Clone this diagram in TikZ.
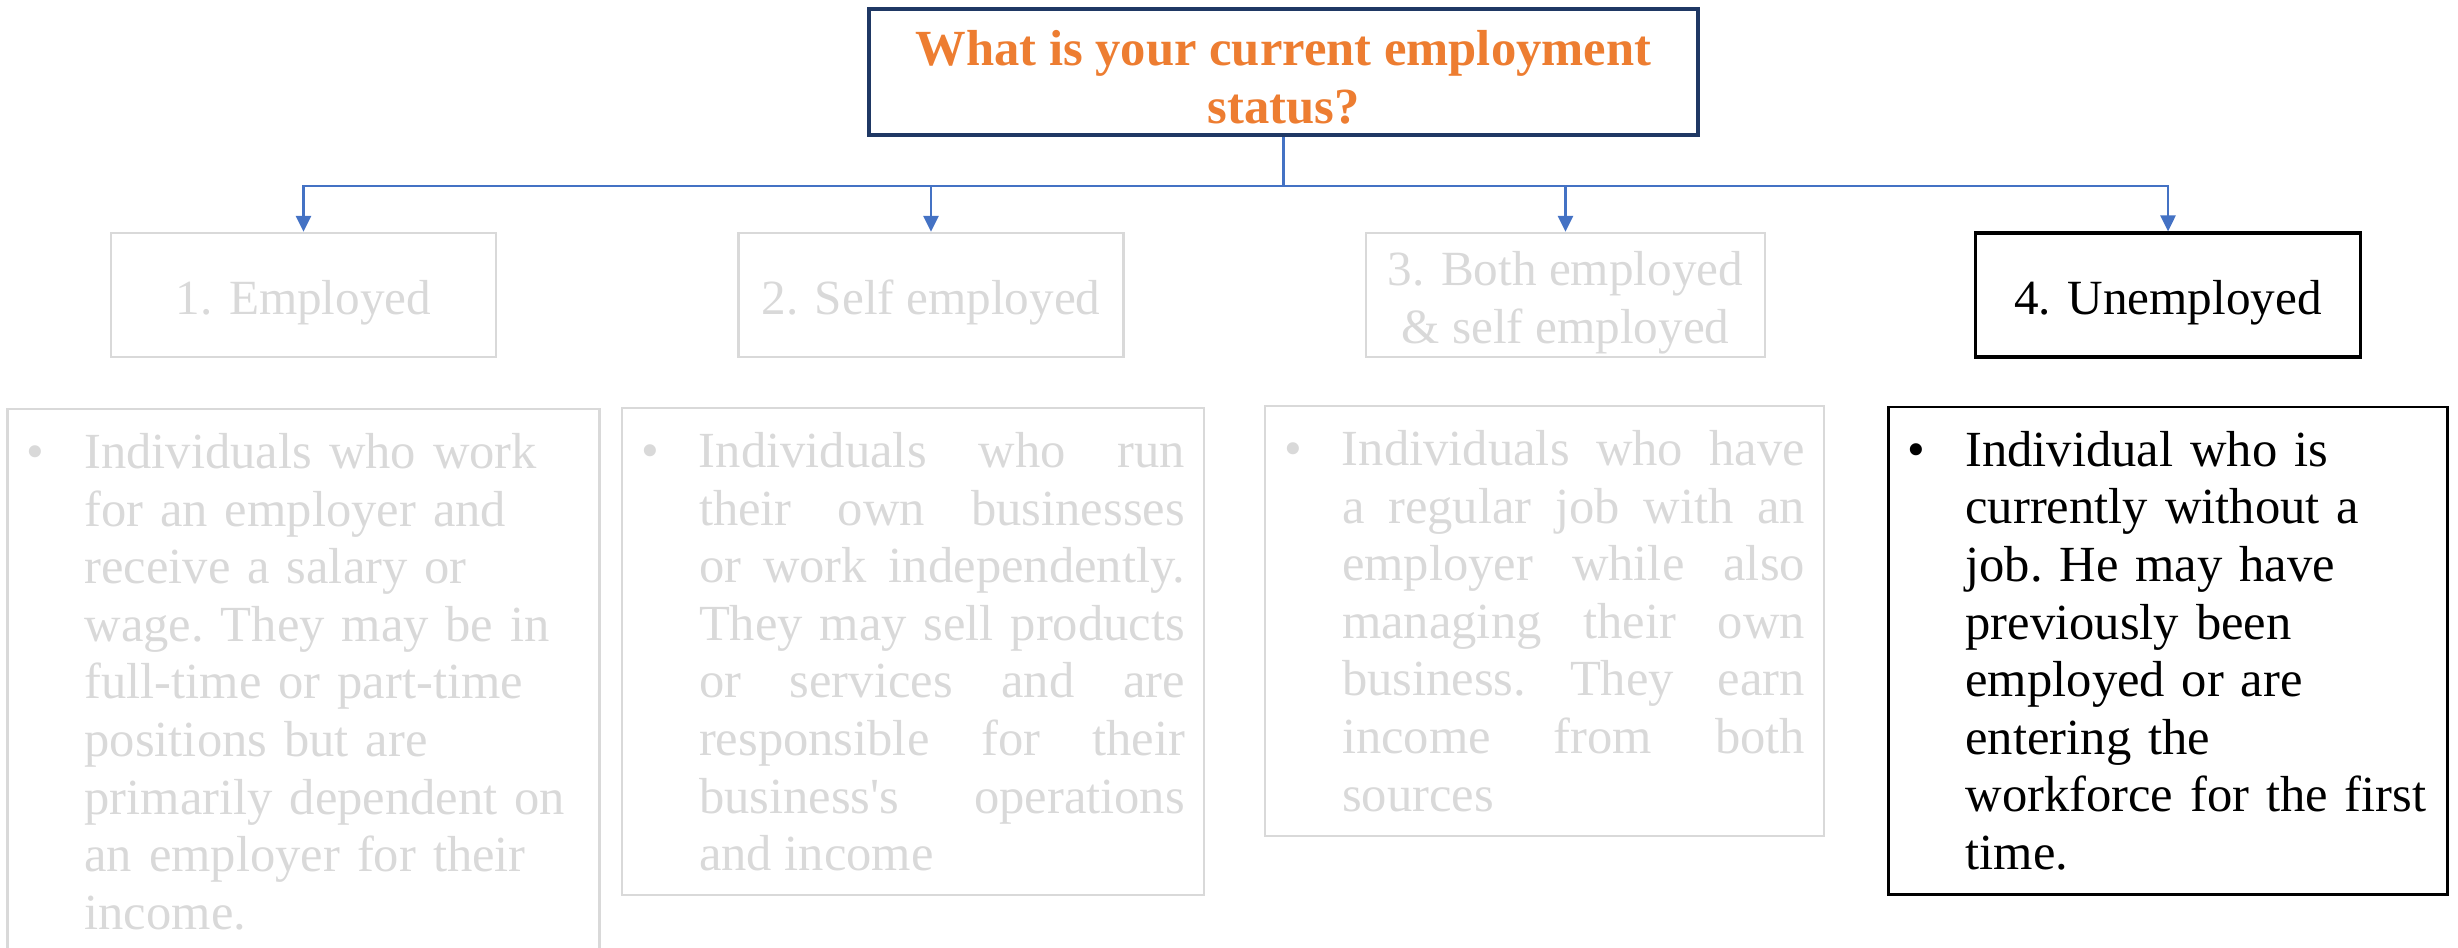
\documentclass[tikz,border=0pt]{standalone}
\usepackage{fontspec}
\setmainfont{Liberation Serif}
\usepackage{tikz}
\usetikzlibrary{arrows.meta, positioning}

\definecolor{qorange}{HTML}{ED7D31}
\definecolor{qnavy}{HTML}{1F3864}
\definecolor{linkblue}{HTML}{4472C4}
\definecolor{faded}{HTML}{D9D9D9}

% bullet hanging in the left margin, every line starts under the first word
\newcommand{\bulletpar}[1]{\frenchspacing\leftskip=0.58cm
  \noindent\llap{\makebox[0.58cm][l]{\textbullet}}#1\par}

\begin{document}
\begin{tikzpicture}[
  >={Triangle[length=1.6mm, width=1.5mm]},
  font=\fontsize{14.4}{16.4}\selectfont,
  question/.style={
    rectangle, draw=qnavy, line width=1.1pt, inner ysep=0pt,
    text=qorange, font=\fontsize{14.4}{16.4}\selectfont\bfseries,
    align=center, minimum width=8.29cm, minimum height=1.26cm
  },
  choice/.style={
    rectangle, draw=faded, line width=0.7pt, text=faded, inner ysep=0pt,
    align=center, font=\fontsize{14}{16.6}\selectfont,
    minimum width=3.85cm, minimum height=1.24cm
  },
  oneline/.style={text height=0.50cm, text depth=0.107cm},
  picked/.style={choice, draw=black, text=black, line width=0.9pt},
  desc/.style={
    rectangle, draw=faded, line width=0.6pt, text=faded,
    anchor=north, inner xsep=0.19cm, inner ysep=0.24cm
  },
  pickeddesc/.style={desc, draw=black, text=black, line width=0.8pt},
  link/.style={draw=linkblue, line width=0.8pt},
]
\useasboundingbox (0,0) rectangle (24.58,-9.48);

% --- question ---
\node[question] (Q) at (12.835,-0.72) {\rule{0pt}{0.46cm}What is your current employment\\ status?};

% --- answer options ---
\node[choice, oneline] (H1) at (3.035,-2.95) {1. Employed};
\node[choice, oneline] (H2) at (9.31,-2.95) {2. Self employed};
\node[choice, minimum width=3.99cm] (H3) at (15.655,-2.95) {\rule{0pt}{0.5cm}3. Both employed\\ \& self employed};
\node[picked, oneline] (H4) at (21.68,-2.95) {4. Unemployed};

% --- descriptions ---
\node[desc, below=0.5cm of H1, text width=5.54cm, align=left] (D1) {%
  \bulletpar{Individuals who work\\ for an employer and\\ receive a salary or\\
  wage. They may be in\\ full-time or part-time\\ positions but are\\
  primarily dependent on\\ an employer for their\\ income.}};
\node[desc, below=0.49cm of H2, xshift=-0.18cm, text width=5.44cm, align=justify] (D2) {%
  \bulletpar{Individuals who run\linebreak their own businesses\linebreak
  or work independently.\linebreak They may sell products\linebreak
  or services and are\linebreak responsible for their\linebreak
  business\textquotesingle s operations\linebreak and income}};
\node[desc, below=0.47cm of H3, xshift=-0.21cm, text width=5.21cm, align=justify] (D3) {%
  \bulletpar{Individuals who have\linebreak a regular job with an\linebreak
  employer while also\linebreak managing their own\linebreak
  business. They earn\linebreak income from both\linebreak sources}};
\node[pickeddesc, below=0.47cm of H4, text width=5.21cm, align=left] (D4) {%
  \bulletpar{Individual who is\\ currently without a\\ job. He may have\\
  previously been\\ employed or are\\ entering the\\
  workforce for the first\\ time.}};

% --- connectors ---
\draw[link] (Q.south) -- ++(0,-0.49) coordinate (bus);
\foreach \h in {H1,H2,H3,H4}
  \draw[link,->] (bus) -| (\h.north);

\end{tikzpicture}
\end{document}
